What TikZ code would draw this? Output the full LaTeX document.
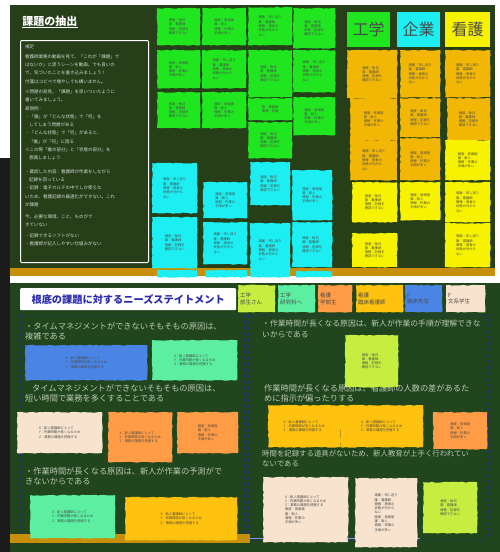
\documentclass[tikz,border=0pt]{standalone}
\usepackage{fontspec}
\setmainfont{Noto Sans CJK JP}
\usetikzlibrary{decorations.pathmorphing}
\definecolor{topbg}{HTML}{263F19}
\definecolor{botbg}{HTML}{21461D}
\definecolor{darkstrip}{HTML}{1B1B1B}
\definecolor{stripor}{HTML}{C8900A}
\definecolor{gnote}{HTML}{1FE61F}
\definecolor{cnote}{HTML}{1CEEF2}
\definecolor{anote}{HTML}{F2B705}
\definecolor{ynote}{HTML}{F7F200}
\definecolor{bnote}{HTML}{4A85E6}
\definecolor{mnote}{HTML}{5CEFA2}
\definecolor{pnote}{HTML}{F7E3CE}
\definecolor{onote}{HTML}{FF9C45}
\definecolor{amnote}{HTML}{FFC20E}
\definecolor{lnote}{HTML}{C6EE40}
\definecolor{navyline}{HTML}{22307A}
\definecolor{senttext}{HTML}{BCC8B4}
\definecolor{notetext}{HTML}{4A4A4A}
\definecolor{titleblue}{HTML}{2B2BB0}
\newcommand{\tnj}{\fontsize{3.3}{4.3}\selectfont}
\newcommand{\txA}{頻度：毎日\\誰：看護師\\情報：記録を\\確認できない}
\newcommand{\txB}{場面：申し送り\\誰：看護師\\情報：患者の\\状態が分から\\ない}
\newcommand{\txC}{頻度：高頻度\\誰：新人\\情報：作業の\\手順が多い}
\newcommand{\txD}{X：新人看護師にとって\\Y：作業時間が長くなるため\\Z：業務の課題を把握する}
\newcommand{\stk}[7]{\node[stickbox,fill=#2,minimum width={(#5-#3)*1pt},minimum height={(#6-#4)*1pt}] (#1) at (#3,#4) {#7};}
\tikzset{
  stickbox/.style={anchor=north west, inner sep=1pt, align=left, font=\tnj, text=notetext,
    decorate, decoration={random steps,segment length=3pt,amplitude=0.5pt}},
  headbox/.style={anchor=north west, inner sep=1pt, font=\fontsize{16}{16}\selectfont, text=notetext},
  legbox/.style={anchor=north west, inner sep=2pt, align=left, font=\fontsize{5.5}{6.5}\selectfont, text=notetext,
    minimum height=27pt, text width=33pt, decorate, decoration={random steps,segment length=3pt,amplitude=0.5pt}},
  sent/.style={anchor=north west, inner sep=0pt, align=left, text=senttext, font=\fontsize{8.2}{10.5}\selectfont},
  frameline/.style={draw=navyline, line width=0.9pt, dashed}
}
\begin{document}
\begin{tikzpicture}[x=1pt,y=-1pt]
\useasboundingbox (0,0) rectangle (500,552);
\fill[white] (0,0) rectangle (500,552);
\fill[darkstrip] (0,158) rectangle (10,552);
% top panel
\fill[topbg] (10,5) rectangle (495,268);
\fill[stripor] (10,268) rectangle (495,276);
\node[text=white, font=\bfseries\fontsize{11}{11}\selectfont] (title1) at (50,22) {\underline{課題の抽出}};
\node[draw=white, line width=1pt, rounded corners=1pt, anchor=north west, minimum width=128pt, minimum height=222pt] (frame) at (20,40) {};
\node[anchor=north west, inner sep=0pt, align=left, text=white!80!topbg, font=\fontsize{4.5}{8.3}\selectfont] (frametext) at (25,45) {%
補足\\[1pt]
看護師業務の動画を見て、「これが「課題」で\\
はないか」と思うシーンを動画、でも良いの\\
で、気づいたことを書き込みましょう！\\
付箋はコピペで増やしても構いません。\\[2pt]
※問題の発見、「課題」を思いついたように\\
書いてみましょう。\\
表現例：\\
・「誰」が「どんな状態」で「何」を\\
\hspace{4pt}してしまう問題がある\\
・「どんな状態」で「何」があると、\\
\hspace{4pt}「誰」が「何」に困る\\
※この際「誰の部分」と「状態の部分」を\\
\hspace{4pt}意識しましょう\\[5pt]
・確認した内容：看護師が作業をしながら\\
\hspace{4pt}記録を回っている\\
・記録：電子カルテの中でしか使えな\\
いため、看護記録の最適化ができない。これ\\
が課題\\[4pt]
今、必要な環境、こと、ものがで\\
きていない\\[2pt]
・記録できるソフトがない\\
・看護師が記入しやすい仕組みがない};
% green notes
\stk{g1}{gnote}{157}{8}{200}{45}{\txA}
\stk{g2}{gnote}{202}{8}{246}{45}{\txC}
\stk{g3}{gnote}{248}{7}{292}{45}{\txB}
\stk{g4}{gnote}{293}{8}{335}{48}{\txA}
\stk{g5}{gnote}{157}{50}{200}{88}{\txC}
\stk{g6}{gnote}{202}{50}{246}{88}{\txB}
\stk{g7}{gnote}{248}{50}{292}{97}{\txA}
\stk{g8}{gnote}{293}{50}{335}{92}{\txB}
\stk{g9}{gnote}{157}{92}{200}{128}{\txA}
\stk{g10}{gnote}{202}{92}{246}{128}{\txC}
\stk{g11}{gnote}{248}{98}{292}{120}{誰：看護師\\情報：記録}
\stk{g12}{gnote}{293}{97}{335}{135}{\txC}
\stk{g13}{gnote}{248}{122}{292}{158}{\txA}
% cyan notes
\stk{c1}{cnote}{152}{163}{197}{213}{\txB}
\stk{c2}{cnote}{152}{217}{197}{268}{\txA}
\stk{c3}{cnote}{203}{182}{247}{218}{\txC}
\stk{c4}{cnote}{203}{222}{247}{264}{\txB}
\stk{c5}{cnote}{250}{162}{290}{205}{\txA}
\stk{c6}{cnote}{250}{223}{290}{277}{\txB}
\stk{c7}{cnote}{292}{170}{332}{220}{\txC}
\stk{c8}{cnote}{292}{222}{332}{267}{\txA}
\stk{c9}{cnote}{157}{270}{197}{277}{}
\stk{c10}{cnote}{205}{270}{247}{277}{}
\stk{c11}{cnote}{296}{271}{332}{277}{}
% headers
\node[headbox, fill=gnote, minimum width=43pt, minimum height=35pt] (h1) at (347,12) {工学};
\node[headbox, fill=cnote, minimum width=43pt, minimum height=35pt] (h2) at (397,12) {企業};
\node[headbox, fill=ynote, minimum width=45pt, minimum height=35pt] (h3) at (445,12) {看護};
% amber notes
\stk{a1}{anote}{347}{50}{397}{98}{\txA}
\stk{a2}{anote}{350}{98}{397}{140}{\txC}
\stk{a3}{anote}{350}{140}{397}{180}{\txB}
\stk{a4}{anote}{400}{50}{440}{97}{\txB}
\stk{a5}{anote}{400}{98}{440}{137}{\txA}
\stk{a6}{anote}{400}{138}{440}{180}{\txC}
\stk{a7}{anote}{445}{50}{490}{97}{\txB}
\stk{a8}{anote}{447}{98}{490}{140}{\txA}
% yellow notes
\stk{y1}{ynote}{445}{140}{490}{180}{\txC}
\stk{y2}{ynote}{352}{182}{397}{222}{\txA}
\stk{y3}{ynote}{400}{182}{440}{220}{\txC}
\stk{y4}{ynote}{445}{182}{490}{222}{\txB}
\stk{y5}{ynote}{352}{233}{397}{267}{\txA}
\stk{y6}{ynote}{445}{223}{490}{267}{\txB}
% bottom panel
\fill[botbg] (10,283) rectangle (500,552);
\draw[frameline] (20,315) rectangle (244,540);
\draw[frameline] (248,315) rectangle (488,540);
\fill[stripor] (10,534) rectangle (250,543);
\draw[blue!45!white, line width=0.8pt] (250,538) -- (420,538);
\node[anchor=north west, fill=white, rounded corners=1pt, minimum width=216pt, minimum height=22pt, inner sep=2pt,
  text=titleblue, font=\bfseries\fontsize{10.2}{10.2}\selectfont] (title2) at (20,288) {根底の課題に対するニーズステイトメント};
% legend
\node[legbox, fill=lnote] (lg1) at (238,285) {工学\\部生さん};
\node[legbox, fill=mnote] (lg2) at (278,285) {工学\\研究科へ};
\node[legbox, fill=onote, text width=30pt] (lg3) at (318,285) {看護\\学部生};
\node[legbox, fill=amnote, text width=43pt] (lg4) at (356,285) {看護\\臨床看護師};
\node[legbox, fill=bnote] (lg5) at (405,285) {F\\臨床先生};
\node[legbox, fill=pnote, text width=35pt] (lg6) at (446,285) {F\\文系学生};
% sentences left
\node[sent] (s1) at (25,322) {・タイムマネジメントができないそもそもの原因は、\\複雑である};
\node[sent] (s2) at (25,384) {\hspace{7pt}タイムマネジメントができないそもそもの原因は、\\短い時間で業務を多くすることである};
\node[sent] (s3) at (25,467) {・作業時間が長くなる原因は、新人が作業の予測がで\\きないからである};
% sentences right
\node[sent, font=\fontsize{7.8}{10.5}\selectfont] (r1) at (262,320) {・作業時間が長くなる原因は、新人が作業の手順が理解できな\\いからである};
\node[sent] (r2) at (264,384) {作業時間が長くなる原因は、看護師の人数の差があるた\\めに指示が偏ったりする};
\node[sent, font=\fontsize{7.4}{10.5}\selectfont] (r3) at (262,450) {時間を記録する道具がないため、新人教育が上手く行われてい\\ないである};
% bottom notes
\stk{bl1}{bnote}{25}{345}{147}{380}{\txD}
\stk{m1}{mnote}{152}{340}{237}{380}{\txD}
\stk{p1}{pnote}{17}{412}{102}{453}{\txD}
\stk{o1}{onote}{108}{412}{172}{462}{\txD}
\stk{o2}{onote}{177}{412}{238}{453}{\txC}
\stk{m2}{mnote}{30}{495}{115}{538}{\txD}
\stk{am1}{amnote}{125}{497}{237}{540}{\txD}
\stk{l1}{lnote}{345}{335}{398}{387}{\txA}
\stk{am2}{amnote}{268}{405}{340}{447}{\txD}
\stk{am3}{amnote}{340}{405}{423}{447}{\txD}
\stk{o3}{onote}{433}{412}{487}{449}{\txC}
\stk{p2}{pnote}{263}{477}{348}{542}{\txD\\\txC}
\stk{p3}{pnote}{355}{478}{417}{547}{\txB\\\txC}
\stk{l2}{lnote}{423}{482}{477}{533}{\txA}
\end{tikzpicture}
\end{document}
